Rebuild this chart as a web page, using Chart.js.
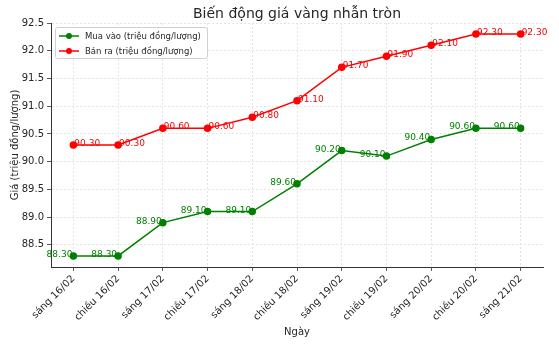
<!DOCTYPE html>
<html>
<head>
<meta charset="utf-8">
<script src="https://cdn.jsdelivr.net/npm/chart.js@4/dist/chart.umd.min.js"></script>
<style>
  body { margin: 0; background: #fff; }
  #wrap { width: 559px; height: 354px; }
</style>
</head>
<body>
<div id="wrap"><canvas id="chart"></canvas></div>
<script>
// data
const days = ['sáng 16/02', 'chiều 16/02', 'sáng 17/02', 'chiều 17/02', 'sáng 18/02', 'chiều 18/02',
  'sáng 19/02', 'chiều 19/02', 'sáng 20/02', 'chiều 20/02', 'sáng 21/02']
const buyPrices = [88.30, 88.30, 88.90, 89.10, 89.10, 89.60, 90.20, 90.10, 90.40, 90.60, 90.60]
const sellPrices = [90.30, 90.30, 90.60, 90.60, 90.80, 91.10, 91.70, 91.90, 92.10, 92.30, 92.30]
const yTicks = [88.5, 89.0, 89.5, 90.0, 90.5, 91.0, 91.5, 92.0, 92.5]
const seriesNames = ['Mua vào (triệu đồng/lượng)', 'Bán ra (triệu đồng/lượng)']
const chartTitle = 'Biến động giá vàng nhẫn tròn'

const FONT = "'DejaVu Sans', sans-serif"
const TEXT = '#262626'

// value labels next to each point
const valueLabels = {
    id: 'valueLabels',
    afterDatasetsDraw(chart) {
        const ctx = chart.ctx
        ctx.save()
        ctx.font = '9px ' + FONT
        ctx.textBaseline = 'alphabetic'
        chart.data.datasets.forEach((ds, i) => {
            const meta = chart.getDatasetMeta(i)
            ctx.fillStyle = ds.borderColor
            ctx.textAlign = i === 0 ? 'right' : 'left'
            meta.data.forEach((pt, j) => {
                const dx = i === 0 ? -1 : 1
                ctx.fillText(ds.data[j].toFixed(2), pt.x + dx, pt.y + 1)
            })
        })
        ctx.restore()
    }
}

// title + legend box inside the plot
const titleAndLegend = {
    id: 'titleAndLegend',
    afterDraw(chart) {
        const ctx = chart.ctx
        const area = chart.chartArea
        ctx.save()
        ctx.fillStyle = TEXT
        ctx.font = '14px ' + FONT
        ctx.textAlign = 'center'
        ctx.textBaseline = 'middle'
        ctx.fillText(chartTitle, (area.left + area.right) / 2, 14)

        const bx = area.left + 4, by = area.top + 4, bw = 152, bh = 31
        ctx.fillStyle = 'rgba(255,255,255,0.85)'
        ctx.strokeStyle = '#d0d0d0'
        ctx.lineWidth = 1
        ctx.beginPath()
        ctx.roundRect(bx + 0.5, by + 0.5, bw, bh, 2)
        ctx.fill()
        ctx.stroke()

        ctx.font = '8.5px ' + FONT
        ctx.textAlign = 'left'
        chart.data.datasets.forEach((ds, i) => {
            const y = by + 9 + i * 15
            ctx.strokeStyle = ds.borderColor
            ctx.lineWidth = 1.5
            ctx.beginPath()
            ctx.moveTo(bx + 4, y)
            ctx.lineTo(bx + 24, y)
            ctx.stroke()
            ctx.fillStyle = ds.borderColor
            ctx.beginPath()
            ctx.arc(bx + 14, y, 3, 0, Math.PI * 2)
            ctx.fill()
            ctx.fillStyle = TEXT
            ctx.fillText(ds.label, bx + 30, y + 0.5)
        })
        ctx.restore()
    }
}

const makeSet = (label, data, color) => ({
    label: label,
    data: data,
    borderColor: color,
    backgroundColor: color,
    borderWidth: 1.5,
    pointRadius: 3,
    pointHoverRadius: 3,
    tension: 0
})

const config = {
    type: 'line',
    data: {
        labels: days,
        datasets: [
            makeSet(seriesNames[0], buyPrices, '#008000'),
            makeSet(seriesNames[1], sellPrices, '#ff0000')
        ]
    },
    options: {
        responsive: true,
        maintainAspectRatio: false,
        animation: false,
        layout: { padding: { top: 23, right: 16, left: 0, bottom: 0 } },
        plugins: {
            legend: { display: false },
            title: { display: false },
            tooltip: { enabled: false }
        },
        scales: {
            x: {
                offset: true,
                grid: { offset: false, color: '#dddddd', tickColor: '#333', tickLength: 4, lineWidth: 0.8 },
                border: { color: '#333', width: 1, dash: [2, 2] },
                ticks: {
                    color: TEXT, font: { family: FONT, size: 10 },
                    minRotation: 45, maxRotation: 45, padding: 2, autoSkip: false
                },
                title: { display: true, text: 'Ngày', color: TEXT, font: { family: FONT, size: 10 }, padding: { top: 4, bottom: 16 } },
                afterFit: (scale) => { scale.height = 87 }
            },
            y: {
                min: 88.1,
                max: 92.5,
                grid: { color: '#dddddd', tickColor: '#333', tickLength: 4, lineWidth: 0.8 },
                border: { color: '#333', width: 1, dash: [2, 2] },
                ticks: {
                    color: TEXT, font: { family: FONT, size: 10 }, padding: 3,
                    callback: (v) => v.toFixed(1)
                },
                title: { display: true, text: 'Giá (triệu đồng/lượng)', color: TEXT, font: { family: FONT, size: 10 }, padding: { top: 9, bottom: 4 } },
                afterBuildTicks: (scale) => { scale.ticks = yTicks.map(v => ({ value: v })) },
                afterFit: (scale) => { scale.width = 51 }
            }
        }
    },
    plugins: [valueLabels, titleAndLegend]
}

const priceChart = new Chart(document.getElementById('chart'), config)
</script>
</body>
</html>
